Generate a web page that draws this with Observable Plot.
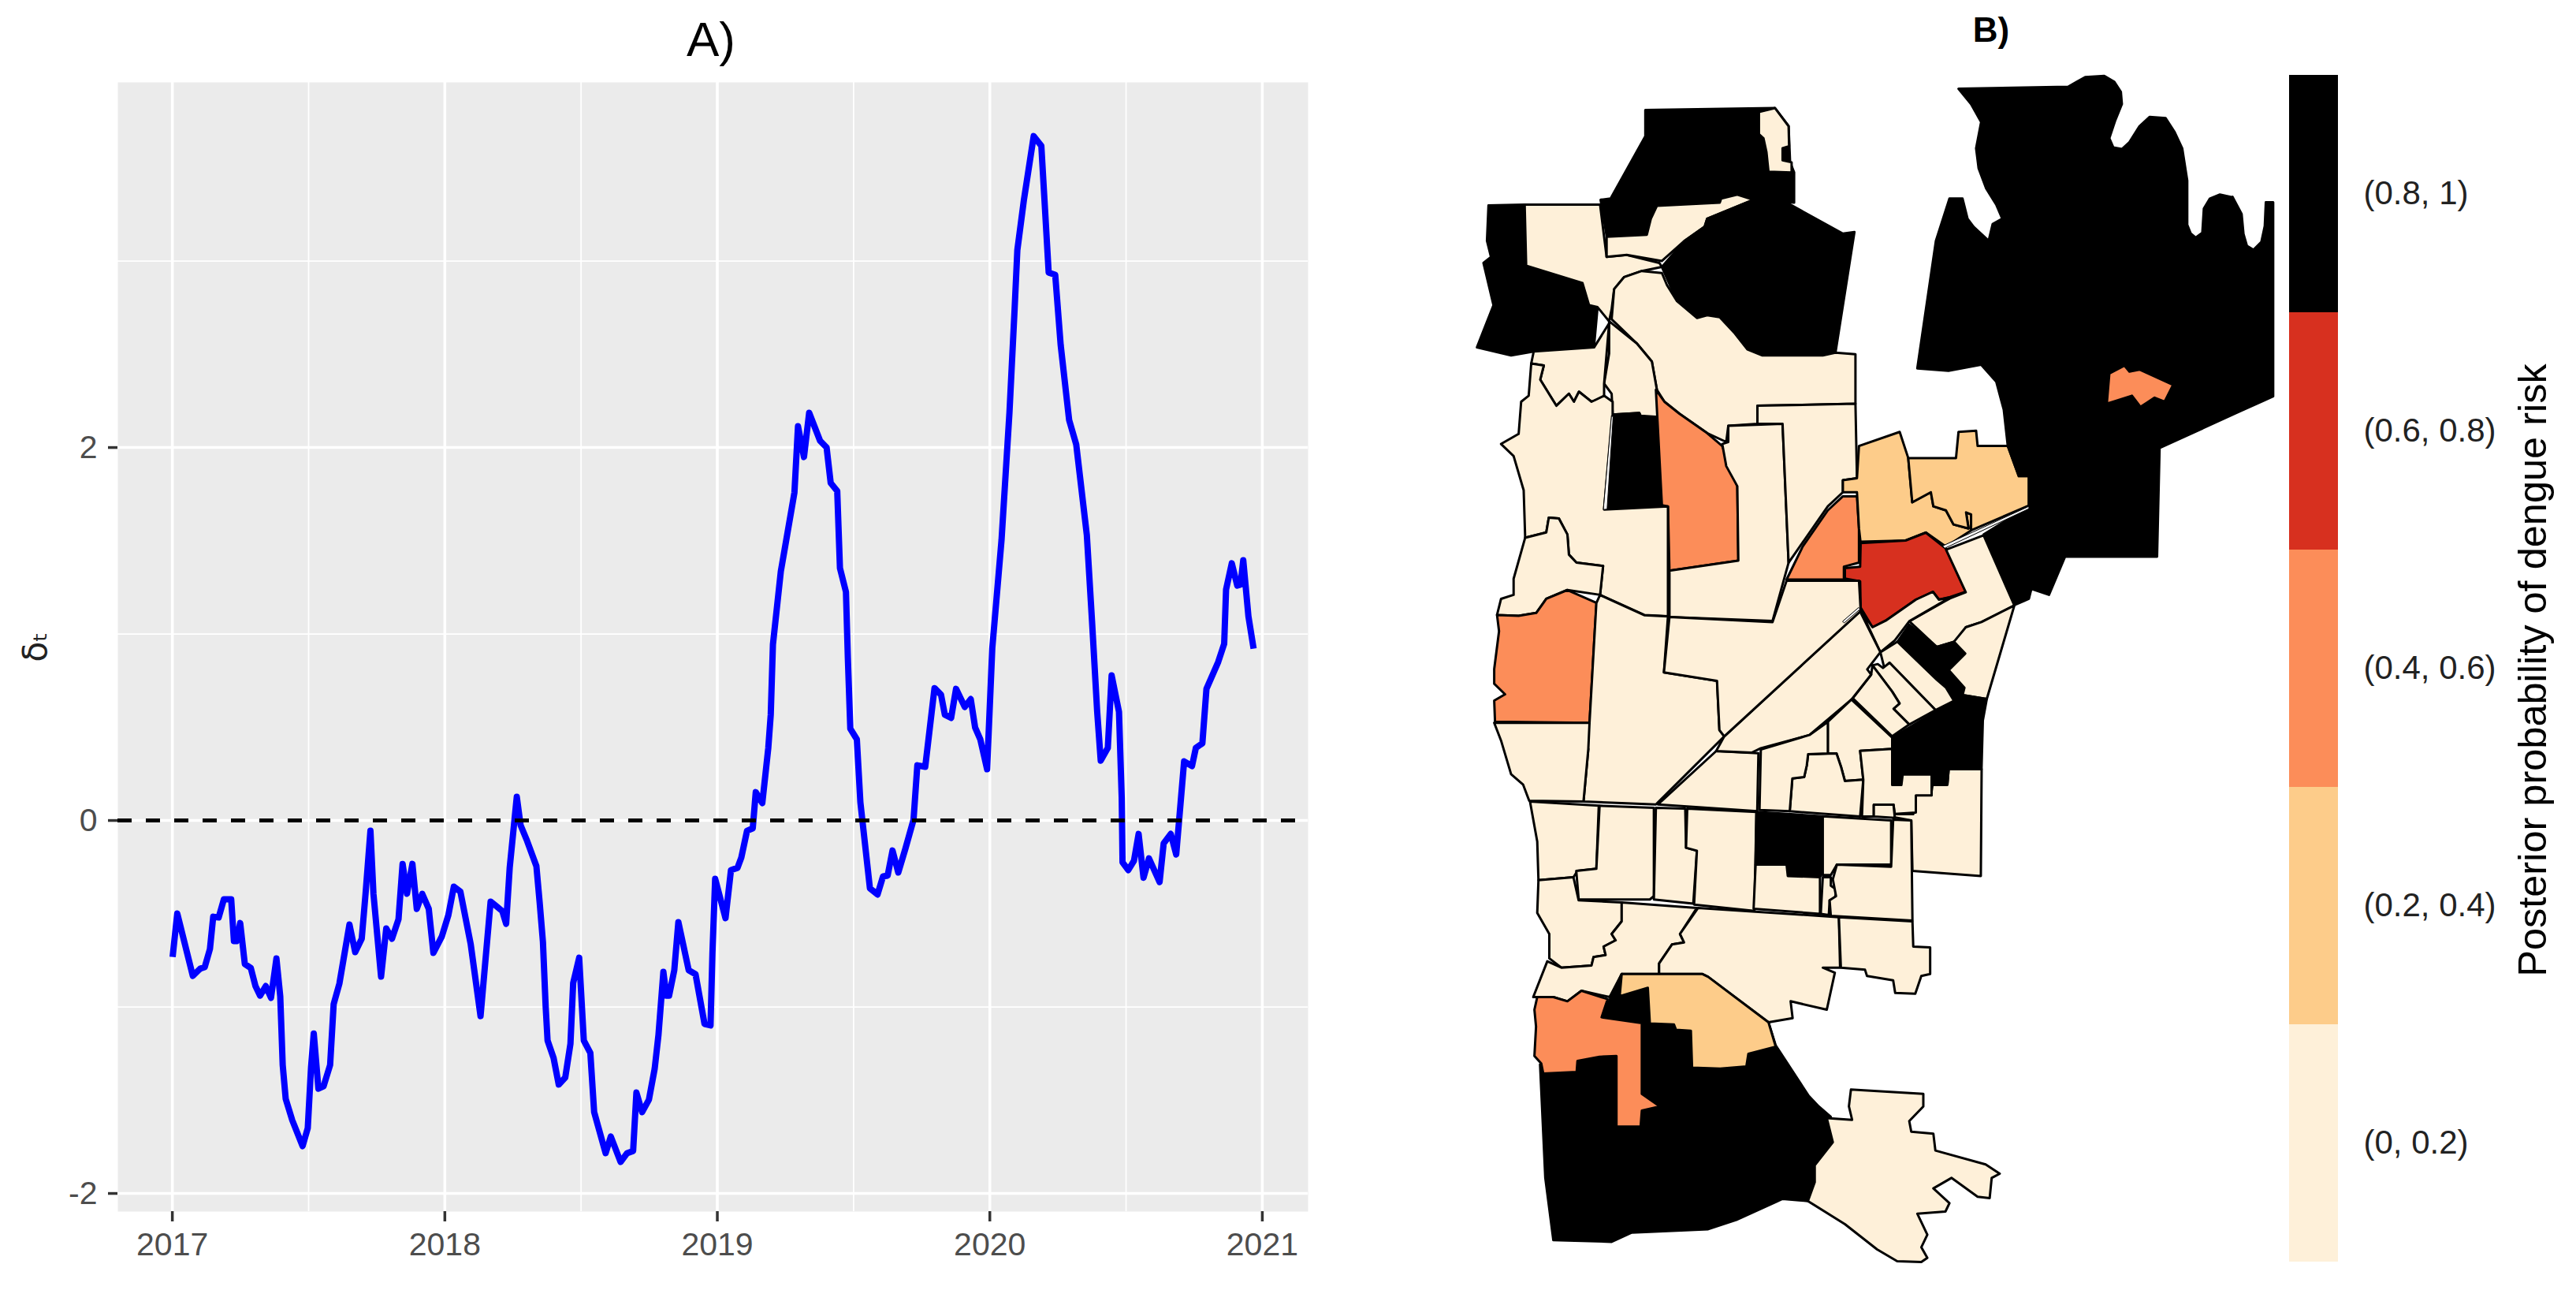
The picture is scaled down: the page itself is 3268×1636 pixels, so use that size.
<!DOCTYPE html>
<html><head><meta charset="utf-8">
<script src="https://cdn.jsdelivr.net/npm/d3@7"></script>
<script src="https://cdn.jsdelivr.net/npm/@observablehq/plot@0.6"></script>
<style>
html,body{margin:0;background:#fff;}
#page{position:relative;width:3268px;height:1636px;overflow:hidden;font-family:"Liberation Sans",Arial,sans-serif;}
#page>*{position:absolute;}
.t{line-height:1;color:#000;transform:translate(-50%,-50%);}
</style></head><body><div id="page"></div>
<script>
// Panel A: years since 2017 and delta_t
const yearOffset = [.001,.018,.075,.102,.119,.138,.150,.170,.189,.216,.226,.235,.249,.266,.288,.305,.322,.343,.362,.382,.396,.405,.416,.440,.478,.497,.509,.519,.536,.555,.579,.592,.613,.650,.671,.695,.709,.727,.738,.766,.785,.806,.830,.845,.861,.881,.897,.917,.941,.958,.989,1.013,1.033,1.057,1.095,1.131,1.168,1.187,1.211,1.225,1.238,1.264,1.278,1.302,1.336,1.348,1.360,1.370,1.377,1.399,1.418,1.442,1.461,1.471,1.493,1.510,1.534,1.548,1.590,1.609,1.645,1.669,1.691,1.703,1.724,1.749,1.770,1.784,1.802,1.813,1.823,1.842,1.857,1.895,1.920,1.953,1.975,1.982,1.992,2.030,2.050,2.074,2.088,2.109,2.130,2.141,2.165,2.187,2.196,2.204,2.233,2.247,2.283,2.296,2.318,2.337,2.377,2.401,2.416,2.440,2.450,2.472,2.479,2.488,2.512,2.525,2.560,2.588,2.608,2.625,2.643,2.664,2.690,2.720,2.734,2.763,2.797,2.821,2.835,2.858,2.876,2.908,2.930,2.946,2.965,2.990,3.009,3.043,3.072,3.091,3.101,3.125,3.161,3.189,3.216,3.240,3.260,3.291,3.317,3.356,3.375,3.394,3.407,3.433,3.447,3.474,3.484,3.487,3.508,3.529,3.546,3.564,3.584,3.623,3.638,3.664,3.684,3.713,3.742,3.756,3.780,3.795,3.838,3.860,3.867,3.888,3.908,3.920,3.930,3.949,3.968];
const delta = [-.732,-.499,-.833,-.795,-.786,-.689,-.516,-.520,-.423,-.423,-.647,-.647,-.550,-.770,-.791,-.888,-.939,-.888,-.951,-.740,-.943,-1.311,-1.493,-1.607,-1.746,-1.649,-1.323,-1.142,-1.438,-1.425,-1.311,-.985,-.875,-.558,-.706,-.634,-.393,-.055,-.393,-.837,-.579,-.634,-.529,-.233,-.393,-.233,-.474,-.393,-.474,-.710,-.622,-.507,-.355,-.381,-.664,-1.049,-.435,-.457,-.486,-.554,-.254,.127,-.025,-.110,-.245,-.440,-.651,-.998,-1.180,-1.273,-1.416,-1.378,-1.197,-.871,-.736,-1.180,-1.247,-1.564,-1.784,-1.695,-1.831,-1.784,-1.772,-1.459,-1.564,-1.497,-1.332,-1.150,-.812,-.939,-.939,-.803,-.545,-.803,-.824,-1.091,-1.099,-.715,-.313,-.524,-.266,-.254,-.199,-.055,-.042,.152,.093,.389,.567,.943,1.336,1.454,1.759,2.114,1.949,2.186,2.036,2.000,1.810,1.767,1.353,1.226,.871,.492,.435,.097,-.364,-.397,-.300,-.296,-.161,-.279,-.152,.004,.296,.288,.710,.674,.567,.550,.706,.609,.651,.499,.435,.275,.923,1.505,2.186,2.744,3.059,3.327,3.670,3.618,2.938,2.926,2.550,2.148,2.017,1.531,1.070,.583,.321,.389,.778,.583,.123,-.224,-.266,-.216,-.072,-.307,-.203,-.330,-.123,-.072,-.182,.317,.292,.389,.414,.706,.850,.947,1.239,1.379,1.260,1.265,1.396,1.095,.922];
const xMajor = [2017,2018,2019,2020,2021];
const xMinor = [2017.5,2018.5,2019.5,2020.5];
const yMajor = [-2,0,2];
const yMinor = [-1,1,3];
const panelTitleA = "A)", panelTitleB = "B)", yLabel = "δₜ";

// Panel B: legend
const bandLabels = ["(0.8, 1)","(0.6, 0.8)","(0.4, 0.6)","(0.2, 0.4)","(0, 0.2)"];
const bandColors = ["#000000","#d7301f","#fc8d59","#fdcc8a","#fef0d9"];
const legendTitle = "Posterior probability of dengue risk";
const [K,RD,OR,LT,CR] = bandLabels;

const pts = (fx,fy) => (...c) => { const o=[]; for(let i=0;i<c.length;i+=2) o.push([fx(c[i]),fy(c[i+1])]); return o; };
const n = pts(x=>1840+x/1.568, y=>60+y/1.96);
const s = pts(x=>1840+x/1.96,  y=>800+y/1.875);
const z = pts(x=>2200+x/3,     y=>680+y/3);
const r = pts(x=>2800+x/3,     y=>60+y*1.005);

const northWards = [
 [K, n(387,155,645,150,672,195,675,285,683,310,683,385,602,378,570,365,538,375,535,385,410,393,398,425,390,465,310,468,298,378,318,375,387,220)],
 [CR,n(613,160,645,150,672,195,673,245,660,250,660,280,678,285,678,310,632,308,628,260,622,225,613,215)],
 [K, n(75,392,147,390,150,542,262,585,275,640,292,645,285,742,165,755,120,765,52,745,85,640,65,535,80,520,72,480)],
 [CR,n(147,390,297,390,310,520,350,515,415,535,420,545,380,555,345,570,325,600,320,650,315,680,292,645,275,640,262,585,150,542)],
 [CR,n(310,470,390,465,398,425,410,393,535,385,538,375,570,365,602,378,510,425,505,445,465,480,420,530,350,515,310,520)],
 [K, n(602,378,668,385,780,462,803,458,765,760,740,765,620,765,590,750,565,710,535,670,510,665,490,672,450,630,420,545,465,480,505,445,510,425)],
 [CR,n(420,560,430,590,450,630,490,672,510,665,535,670,565,710,590,750,620,765,740,765,765,758,805,762,805,885,610,890,610,935,552,940,548,980,510,958,455,910,425,880,410,850,400,780,370,735,320,675,325,600,345,570,380,555)],
 [CR,n(315,680,370,735,400,780,410,850,412,918,378,915,375,908,322,912,320,860,305,835,315,760)],
 [K, n(322,912,375,908,378,918,412,918,420,1137,312,1147)],
 [OR,n(408,850,425,880,455,910,510,958,540,990,555,1040,570,1090,572,1275,435,1300,432,1140,420,1137)],
 [CR,n(165,755,285,745,315,685,305,835,305,870,280,880,255,855,245,880,235,860,210,890,178,825,185,790,160,785)],
 [CR,n(160,785,155,865,140,880,135,960,100,985,125,1015,145,1100,148,1218,190,1205,195,1168,215,1170,232,1210,235,1260,250,1280,303,1288,297,1360,385,1410,432,1413,432,1140,305,1148,322,912,322,880,305,865,280,880,255,855,245,880,235,860,210,890,178,825,185,790)],
 [CR,n(148,1218,190,1205,195,1168,215,1170,232,1210,235,1260,250,1280,303,1288,297,1360,232,1348,190,1370,170,1405,135,1412,92,1410,100,1370,125,1360,125,1320)],
 [OR,[...n(92,1410,135,1412,170,1405,190,1370,232,1348,290,1380),...s(358,0,345,218,110,215,108,165,135,150,108,125,108,90,120,0)]],
 [CR,n(552,940,660,935,672,1280,640,1425,435,1415,435,1300,572,1275,570,1090,548,1040,540,985,552,980)],
 [CR,n(610,890,805,885,808,1070,780,1075,780,1105,750,1140,672,1280,660,935,610,935)],
 [OR,n(668,1322,700,1240,750,1150,780,1115,808,1115,812,1195,812,1280,782,1290,782,1322)],
 [LT,n(812,990,893,955,910,1020,918,1130,955,1105,960,1140,985,1150,1000,1185,1030,1195,1025,1155,1035,1160,1035,1200,985,1240,945,1205,905,1225,815,1228,812,1195,808,1105,780,1105,780,1075,808,1070)],
 [LT,n(910,1020,1005,1020,1010,955,1045,952,1048,990,1108,990,1130,1065,1150,1065,1150,1138,1035,1200,1035,1160,1025,1155,1030,1195,1000,1185,985,1150,960,1140,955,1105,918,1130)],
 [K, [...n(1010,102,1228,97,1245,85,1262,73,1300,70,1320,85,1333,110,1335,140,1322,180,1310,225,1318,248,1335,252,1350,235,1370,195,1390,172,1422,175,1440,210,1455,250,1465,330,1465,440,1472,462,1482,472,1495,460,1498,400,1510,375,1530,365,1555,372),...r(95,188,130,210,137,235,150,250,175,255,205,245,218,225,222,195,250,195,250,440),...n(1568,905,1410,995,1405,1265,1222,1265,1190,1360,1155,1345,1150,1370,1122,1385,1060,1210,1150,1140,1150,1065,1130,1065,1108,990,1100,900,1085,830,1055,788,990,803,928,797,965,480,992,375,1018,375,1028,425,1040,445,1070,480,1078,438,1097,425,1085,390,1065,350,1050,300,1045,250,1055,185,1035,140)]],
 [OR,n(1305,885,1310,810,1340,790,1350,805,1370,800,1437,838,1420,880,1400,870,1372,893,1355,865)],
];

const coreWards = [
 [RD,z(420,120,478,115,480,25,651,15,728,-15,805,46,880,210,820,230,778,240,755,210,690,240,575,320,525,345,480,270,478,170,420,160)],
 [CR,z(805,50,948,-5,1065,262,940,325,880,345,875,365,835,400,770,420,665,322,820,235,880,212)],
 [CR,z(480,280,525,345,575,320,690,240,755,210,778,240,820,232,665,322,610,395,555,440)],
 [K, z(620,400,665,335,770,420,835,400,878,445,815,508,875,575,868,600,835,625,805,575,770,545)],
 [CR,z(1065,262,960,618,868,603,875,575,815,508,878,445,835,400,880,345,940,325)],
 [K, z(600,765,835,625,868,603,960,618,945,700,940,885,815,885,810,945,752,945,750,905,640,905,635,945,600,945)],
 [CR,z(555,440,620,400,770,545,805,575,835,625,765,660,590,480,570,500)],
 [CR,z(525,490,545,485,565,500,590,480,765,660,665,715,605,655,628,635,600,590)],
 [CR,z(520,525,525,490,600,590,628,635,605,655,665,715,600,760,450,615)],
 [CR,z(478,285,555,440,505,505,520,525,445,620,285,755,100,805,65,822,-70,816,-39,760)],
 [CR,z(355,705,445,620,600,765,600,808,478,815,490,925,420,930,405,875,388,825,355,825)],
 [CR,z(280,828,388,825,405,875,420,930,490,925,478,1065,210,1045,220,920,265,915,275,870)],
 [CR,z(100,810,285,755,355,705,355,825,280,828,275,870,265,915,220,920,210,1045,95,1040)],
 [CR,z(478,815,600,808,600,945,635,945,640,905,750,905,750,985,690,985,690,1050,610,1055,605,1020,530,1020,530,1065,485,1065,490,925)],
 [CR,z(530,1020,605,1020,610,1070,530,1065)],
 [CR,[...n(435,1415,640,1428,668,1325,812,1325,815,1390),...z(478,285),...s(680,250,668,235,662,118,530,98)]],
];

const southWards = [
 [CR,[...s(362,-67,371,-86,481,-38,540,-35,530,98,662,118,668,235,680,250,510,412,330,405,342,280,322,260,345,218)]],
 [CR,s(108,218,345,218,342,280,330,405,195,403,180,365,150,340,125,260)],
 [CR,s(515,412,660,285,765,290,762,428)],
 [CR,s(1198,365,1235,362,1238,328,1320,328,1318,582,1148,570,1145,450,1100,442,1100,435,1150,435,1155,390,1195,385)],
 [CR,s(197,405,368,415,362,565,315,570,305,585,218,592,215,500)],
 [CR,s(370,415,505,420,505,630,495,638,318,638,312,570,362,565)],
 [CR,s(510,420,583,422,585,515,612,522,603,648,505,638)],
 [CR,s(588,422,760,430,755,665,605,650,612,522,585,515)],
 [K, s(760,430,925,440,920,582,838,580,835,555,758,555)],
 [CR,s(758,555,835,555,838,582,918,585,918,672,753,660)],
 [CR,s(925,585,945,585,945,605,960,615,955,635,942,640,940,675,920,672)],
 [CR,s(925,440,1095,450,1095,555,960,555,945,580,925,580)],
 [CR,s(960,555,1095,560,1100,448,1145,450,1148,688,945,677,942,640,958,630,950,590)],
 [CR,s(218,592,305,585,318,640,425,645,425,690,400,720,410,735,380,750,385,770,355,775,350,795,275,800,245,778,245,720,215,670)],
 [CR,s(425,645,612,658,570,720,580,740,550,745,518,790,518,815,425,815,395,870,325,855,290,880,255,870,205,870,240,785,275,800,350,795,355,775,385,770,380,750,410,735,400,720,425,690)],
 [CR,s(615,658,965,680,968,800,925,800,955,812,935,900,845,880,850,920,790,930,640,822,625,815,518,815,518,790,550,745,580,740,570,720)],
 [CR,s(965,680,1148,690,1150,750,1192,752,1192,815,1170,820,1155,862,1105,860,1100,830,1035,820,1030,805,970,800)],
 [K, s(425,815,790,930,808,985,890,1105,915,1130,945,1155,950,1215,905,1270,905,1310,888,1355,825,1350,710,1400,640,1422,450,1430,400,1452,255,1448,235,1300,222,1030,375,918)],
 [LT,s(425,815,625,815,640,822,790,930,808,988,740,1005,735,1035,670,1040,600,1038,597,950,560,948,555,935,495,933,490,848,420,868)],
 [OR,s(215,870,255,870,290,880,325,855,390,875,375,918,475,932,475,1100,520,1130,475,1140,472,1178,412,1178,412,1010,370,1012,315,1022,313,1048,230,1052,225,1028,208,1010,212,940,208,900)],
 [CR,s(888,1355,905,1310,905,1270,950,1215,935,1158,998,1162,990,1130,995,1090,1175,1100,1175,1130,1140,1165,1145,1190,1200,1195,1205,1235,1330,1268,1365,1290,1345,1300,1340,1348,1310,1345,1245,1300,1200,1325,1240,1360,1230,1380,1160,1385,1185,1435,1170,1465,1185,1490,1170,1500,1110,1498,1060,1470,980,1410)],
];

// Thin road gaps left between wards
const roadGaps = [
 n(983,1244,1150,1146,1150,1140,979,1238),
 z(412,322,472,270,478,276,418,328),
 n(320,915,323,918,311,1147,304,1148),
];

const polygon = (ring, band) => ({type:"Feature",properties:{band},geometry:{type:"Polygon",coordinates:[[...ring,ring[0]]]}});
const wards = [...northWards,...southWards,...coreWards].map(([b,ring])=>polygon(ring,b));
const gaps = roadGaps.map(ring=>polygon(ring,"gap"));

const page = document.getElementById("page");
const fontFamily = '"Liberation Sans",Arial,sans-serif';
const place = (node,left,top) => { node.style.left=left+"px"; node.style.top=top+"px"; page.appendChild(node); };
const titleDiv = (txt,x,y,size,weight) => { const d=document.createElement("div"); d.className="t"; d.textContent=txt; d.style.fontSize=size+"px"; d.style.fontWeight=weight; place(d,x,y); };

// Panel A
const series = yearOffset.map((o,i)=>({year:2017+o,value:delta[i]}));
const lineChart = Plot.plot({
  width:1700,height:1636,marginLeft:149,marginRight:41,marginTop:104,marginBottom:100,
  style:{fontFamily,background:"transparent",maxWidth:"none",overflow:"visible"},
  x:{domain:[2016.8,2021.168]},
  y:{domain:[-2.097,3.958]},
  marks:[
    Plot.frame({fill:"#ebebeb",stroke:null}),
    Plot.ruleX(xMinor,{stroke:"#fff",strokeWidth:1.8}),
    Plot.ruleY(yMinor,{stroke:"#fff",strokeWidth:1.8}),
    Plot.ruleX(xMajor,{stroke:"#fff",strokeWidth:3.6}),
    Plot.ruleY(yMajor,{stroke:"#fff",strokeWidth:3.6}),
    Plot.line(series,{x:"year",y:"value",stroke:"#0000ff",strokeWidth:8,strokeLinejoin:"round",strokeLinecap:"butt"}),
    Plot.ruleY([0],{stroke:"#000",strokeWidth:5,strokeDasharray:"18 18"}),
    Plot.axisX(xMajor,{tickFormat:"d",label:null,tickSize:13,tickPadding:13,fontSize:41,stroke:"#333",strokeWidth:3.5,fill:"#4d4d4d"}),
    Plot.axisY(yMajor,{tickFormat:d=>String(d).replace("−","-"),label:null,tickSize:12,tickPadding:14,fontSize:41,stroke:"#333",strokeWidth:3.5,fill:"#4d4d4d"}),
    Plot.text([yLabel],{frameAnchor:"left",textAnchor:"middle",dx:-104,rotate:-90,fontSize:42,fill:"#222",fontFamily:"DejaVu Sans"})
  ]
});
place(lineChart,0,0);
titleDiv(panelTitleA,902,50,62,400);

// Panel B map
const mapLeft = 1860;
const mapChart = Plot.plot({
  width:1035,height:1636,margin:0,
  style:{fontFamily,background:"transparent",maxWidth:"none",overflow:"visible"},
  projection:d3.geoIdentity().translate([-mapLeft,0]),
  color:{domain:bandLabels,range:bandColors},
  marks:[
    Plot.geo(wards,{fill:d=>d.properties.band,stroke:"#000",strokeWidth:3,strokeLinejoin:"round"}),
    Plot.geo(gaps,{fill:"#f4f4f4",stroke:"#000",strokeWidth:1})
  ]
});
place(mapChart,mapLeft,0);
titleDiv(panelTitleB,2526,38,44,700);

// Legend
const legend = Plot.plot({
  width:364,height:1636,marginLeft:0,marginRight:302,marginTop:95,marginBottom:36,
  style:{fontFamily,background:"transparent",maxWidth:"none",overflow:"visible"},
  y:{domain:bandLabels,type:"band",padding:0},
  color:{domain:bandLabels,range:bandColors},
  marks:[
    Plot.cell(bandLabels,{y:d=>d,fill:d=>d}),
    Plot.axisY(bandLabels,{anchor:"right",label:null,tickSize:0,tickPadding:32,fontSize:42,fill:"#222"}),
    Plot.text([legendTitle],{frameAnchor:"right",textAnchor:"middle",dx:247,dy:2,rotate:-90,fontSize:50.5,fill:"#000"})
  ]
});
place(legend,2904,0);
</script></body></html>
